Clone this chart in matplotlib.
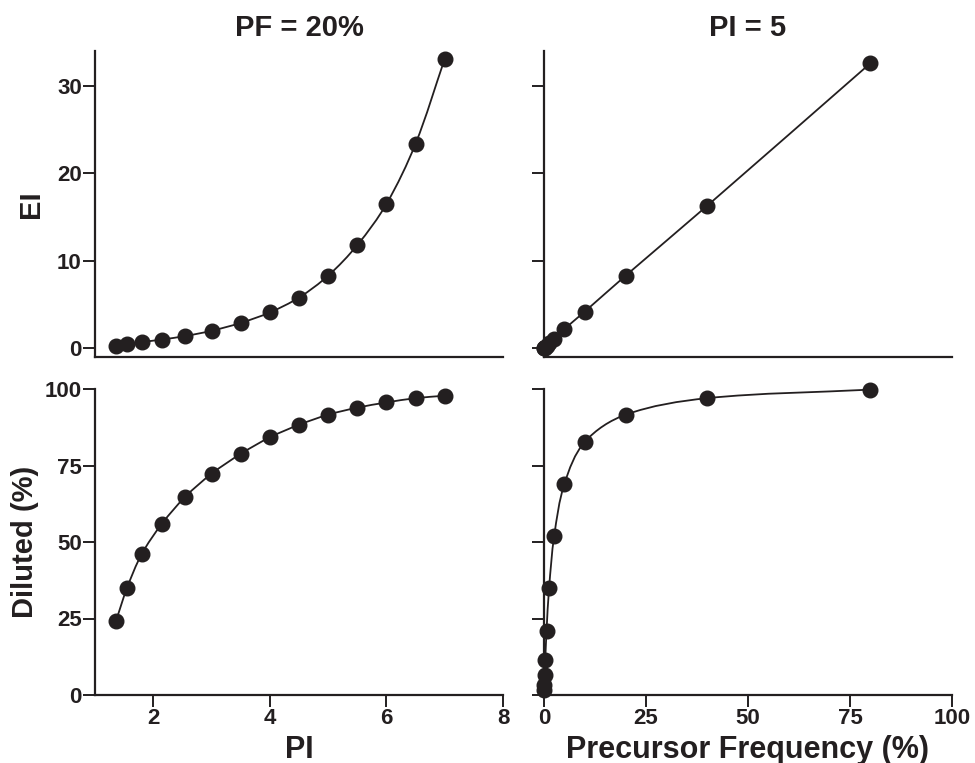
import numpy as np
import matplotlib
matplotlib.use("Agg")
import matplotlib.pyplot as plt
from matplotlib.path import Path
from matplotlib.patches import PathPatch
from matplotlib.transforms import IdentityTransform

# PF = 20 %, varying PI
pi_vals = [1.36, 1.55, 1.8, 2.15, 2.55, 3.0, 3.5, 4.0, 4.5, 5.0, 5.5, 6.0, 6.5, 7.0]
ei_by_pi = [0.3, 0.45, 0.7, 1.0, 1.4, 2.0, 2.9, 4.1, 5.8, 8.3, 11.8, 16.5, 23.4, 33.1]
diluted_by_pi = [24.2, 35.0, 46.0, 56.0, 64.8, 72.3, 78.8, 84.2, 88.3, 91.6, 93.9, 95.6, 97.0, 97.8]

# PI = 5, varying precursor frequency
pf_vals = [80, 40, 20, 10, 5, 2.5, 1.25, 0.625, 0.3125, 0.156, 0.078, 0.039]
ei_by_pf = [32.6, 16.3, 8.3, 4.2, 2.2, 1.1, 0.55, 0.27, 0.13, 0.07, 0.03, 0.02]
diluted_by_pf = [99.8, 97.0, 91.6, 82.7, 69.0, 52.0, 35.0, 21.0, 11.6, 6.4, 3.3, 1.6]

ink = "#231f20"
plt.rcParams["font.family"] = ["Liberation Sans", "DejaVu Sans"]
plt.rcParams["font.weight"] = "bold"

fig = plt.figure(figsize=(9.75, 7.63), dpi=100)
w, h = 408 / 975, 306 / 763
ax_tl = fig.add_axes([95 / 975, 1 - 357 / 763, w, h])
ax_tr = fig.add_axes([544 / 975, 1 - 357 / 763, w, h])
ax_bl = fig.add_axes([95 / 975, 1 - 695 / 763, w, h])
ax_br = fig.add_axes([544 / 975, 1 - 695 / 763, w, h])


def style(ax):
    for s in ["top", "right"]:
        ax.spines[s].set_visible(False)
    for s in ["left", "bottom"]:
        ax.spines[s].set_linewidth(1.6)
        ax.spines[s].set_color(ink)
    ax.tick_params(width=1.4, length=8.5, color=ink, labelsize=16, labelcolor=ink, pad=1)
    for lab in ax.get_xticklabels() + ax.get_yticklabels():
        lab.set_fontweight("bold")


def smooth_line(ax, x, y):
    # bezier curve through the points, drawn in pixel space
    p = ax.transData.transform(np.column_stack([x, y]))
    order = np.argsort(p[:, 0])
    p = p[order]
    n = len(p)
    tang = np.zeros_like(p)
    for i in range(n):
        a = p[max(i - 1, 0)]
        b = p[min(i + 1, n - 1)]
        d = b - a
        tang[i] = d / np.hypot(*d)
    verts = [p[0]]
    codes = [Path.MOVETO]
    for i in range(n - 1):
        seg = np.hypot(*(p[i + 1] - p[i])) / 3
        verts += [p[i] + tang[i] * seg, p[i + 1] - tang[i + 1] * seg, p[i + 1]]
        codes += [Path.CURVE4] * 3
    patch = PathPatch(Path(verts, codes), transform=IdentityTransform(),
                      fill=False, edgecolor=ink, lw=1.3, clip_on=False)
    ax.add_artist(patch)


def draw(ax, x, y):
    smooth_line(ax, x, y)
    ax.plot(x, y, ls="none", marker="o", ms=10.5, mfc=ink, mec=ink, clip_on=False, zorder=3)


for ax in (ax_tl, ax_bl):
    ax.set_xlim(1, 8)
    ax.set_xticks([2, 4, 6, 8])
for ax in (ax_tr, ax_br):
    ax.set_xlim(0, 100)
    ax.set_xticks([0, 25, 50, 75, 100])
for ax in (ax_tl, ax_tr):
    ax.set_ylim(-1, 34)
    ax.set_yticks([0, 10, 20, 30])
for ax in (ax_bl, ax_br):
    ax.set_ylim(0, 100)
    ax.set_yticks([0, 25, 50, 75, 100])

for ax in (ax_tl, ax_tr, ax_bl, ax_br):
    style(ax)
for ax in (ax_tl, ax_tr):
    ax.tick_params(axis="x", length=0, labelbottom=False)
for ax in (ax_tr, ax_br):
    ax.tick_params(axis="y", labelleft=False)

draw(ax_tl, pi_vals, ei_by_pi)
draw(ax_bl, pi_vals, diluted_by_pi)
draw(ax_tr, pf_vals, ei_by_pf)
draw(ax_br, pf_vals, diluted_by_pf)

ax_tl.set_title("PF = 20%", fontsize=21, fontweight="bold", color=ink, pad=11)
ax_tr.set_title("PI = 5", fontsize=21, fontweight="bold", color=ink, pad=11)
ax_tl.set_ylabel("EI", fontsize=21, fontweight="bold", color=ink, labelpad=9)
ax_bl.set_ylabel("Diluted (%)", fontsize=21, fontweight="bold", color=ink, labelpad=4)
ax_bl.set_xlabel("PI", fontsize=22, fontweight="bold", color=ink, labelpad=4)
ax_br.set_xlabel("Precursor Frequency (%)", fontsize=22, fontweight="bold", color=ink, labelpad=4)

fig.savefig("out.png", dpi=100)
